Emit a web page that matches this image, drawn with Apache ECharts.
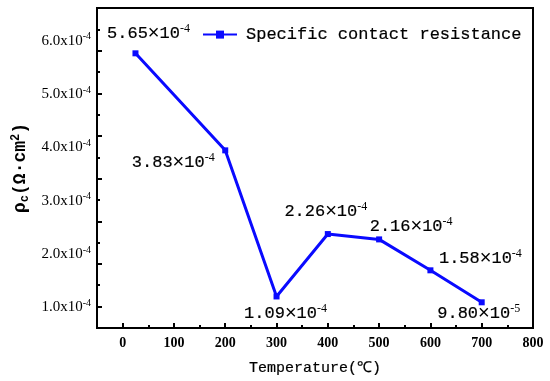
<!DOCTYPE html>
<html>
<head>
<meta charset="utf-8">
<script src="https://cdn.jsdelivr.net/npm/echarts@6/dist/echarts.min.js"></script>
<style>html,body{margin:0;padding:0;background:#fff}#c{width:550px;height:381px}</style>
</head>
<body>
<div id="c"></div>
<script>
// ---- data ----
var temperatures = [25, 200, 300, 400, 500, 600, 700];
var resistance = [5.65e-4, 3.83e-4, 1.09e-4, 2.26e-4, 2.16e-4, 1.58e-4, 9.80e-5];
var seriesName = 'Specific contact resistance';
var xTickLabels = [0, 100, 200, 300, 400, 500, 600, 700, 800];
var yTickLabels = [1.0e-4, 2.0e-4, 3.0e-4, 4.0e-4, 5.0e-4, 6.0e-4];
var yMajorTicks = [0.9e-4, 1.7e-4, 2.5e-4, 3.3e-4, 4.1e-4, 4.9e-4, 5.7e-4];
var yMinorTicks = [1.3e-4, 2.1e-4, 2.9e-4, 3.7e-4, 4.5e-4, 5.3e-4, 6.1e-4];
var xMinorTicks = [50, 150, 250, 350, 450, 550, 650, 750];

// ---- styles ----
var labelOffsets = [[13, -20], [-52, 12], [9, 17], [-2, -23], [32, -13], [50, -12], [-3, 11]];
var MONO = 'Liberation Mono';
var SERIF = 'Liberation Serif';
var BLUE = '#0a0aff';
var thick = {textBorderColor: '#000', textBorderWidth: 0.2};

function sci(v) {
  var e = Math.floor(Math.log10(v) + 1e-9);
  var m = v / Math.pow(10, e);
  return '{m|' + m.toFixed(2) + '}{x|×}{m|10}{s|' + e + '}';
}

var chart = echarts.init(document.getElementById('c'), null, {renderer: 'canvas'});
var data = temperatures.map(function (t, i) {
  return {
    value: [t, resistance[i]],
    label: {offset: labelOffsets[i]}
  };
});

var commonY = {
  type: 'value', min: 0.5e-4, max: 6.5e-4, position: 'left',
  splitLine: {show: false}
};
var commonX = {
  type: 'value', min: -50, max: 800, position: 'bottom',
  splitLine: {show: false}
};

chart.setOption({
  animation: false,
  grid: {left: 97, right: 17, top: 8, bottom: 52, show: true, borderColor: '#000', borderWidth: 2, containLabel: false},
  legend: {
    left: 197, top: 21,
    itemWidth: 34, itemHeight: 10, itemGap: 10,
    textStyle: Object.assign({fontFamily: MONO, fontSize: 17, color: '#000', padding: [0, 0, 0, 4]}, thick),
    data: [seriesName]
  },
  xAxis: [
    Object.assign({}, commonX, {
      name: 'Temperature(℃)', nameLocation: 'middle', nameGap: 33,
      nameTextStyle: Object.assign({fontFamily: MONO, fontSize: 15, color: '#000'}, thick),
      axisLine: {onZero: false, lineStyle: {color: '#000', width: 2}},
      axisTick: {inside: true, length: 5, lineStyle: {color: '#000', width: 2}, customValues: xTickLabels},
      axisLabel: {customValues: xTickLabels, color: '#000', fontFamily: SERIF, fontWeight: 'bold', fontSize: 14, margin: 8}
    }),
    Object.assign({}, commonX, {
      axisLine: {show: false, onZero: false},
      axisTick: {inside: true, length: 3, lineStyle: {color: '#000', width: 2}, customValues: xMinorTicks},
      axisLabel: {show: false}
    })
  ],
  yAxis: [
    Object.assign({}, commonY, {
      name: '{n|ρ}{sub|c}{n|(Ω·cm}{sup|2}{n|)}', nameLocation: 'middle', nameGap: 50,
      nameTextStyle: {
        color: '#000',
        rich: {
          n: {fontFamily: MONO, fontSize: 18, fontWeight: 'bold', color: '#000'},
          sub: {fontFamily: MONO, fontSize: 12, fontWeight: 'bold', color: '#000', verticalAlign: 'bottom', padding: [7, 0, 0, 0]},
          sup: {fontFamily: MONO, fontSize: 12, fontWeight: 'bold', color: '#000', verticalAlign: 'top', padding: [0, 0, 9, 0]}
        }
      },
      axisLine: {onZero: false, lineStyle: {color: '#000', width: 2}},
      axisTick: {inside: true, length: 5, lineStyle: {color: '#000', width: 2}, customValues: yMajorTicks},
      axisLabel: {
        customValues: yTickLabels, margin: 6, padding: [12, 0, 0, 0],
        formatter: function (v) { return '{m|' + (v * 1e4).toFixed(1) + 'x10}{s|-4}'; },
        rich: {
          m: {fontFamily: SERIF, fontSize: 15, color: '#000'},
          s: {fontFamily: SERIF, fontSize: 10, color: '#000', verticalAlign: 'top', padding: [0, 0, 8, 0]}
        }
      }
    }),
    Object.assign({}, commonY, {
      axisLine: {show: false, onZero: false},
      axisTick: {inside: true, length: 3, lineStyle: {color: '#000', width: 2}, customValues: yMinorTicks},
      axisLabel: {show: false}
    })
  ],
  series: [{
    name: seriesName, type: 'line', xAxisIndex: 0, yAxisIndex: 0,
    data: data,
    symbol: 'rect', symbolSize: 6,
    lineStyle: {color: BLUE, width: 3},
    itemStyle: {color: BLUE},
    label: {
      show: true, position: 'inside', color: '#000',
      formatter: function (p) { return sci(p.value[1]); },
      rich: {
        m: Object.assign({fontFamily: MONO, fontSize: 17, color: '#000'}, thick),
        x: {fontFamily: 'Liberation Sans', fontSize: 20, color: '#000'},
        s: {fontFamily: SERIF, fontSize: 12, color: '#000', verticalAlign: 'top', padding: [0, 0, 9, 0]}
      }
    }
  }]
});
</script>
</body>
</html>
